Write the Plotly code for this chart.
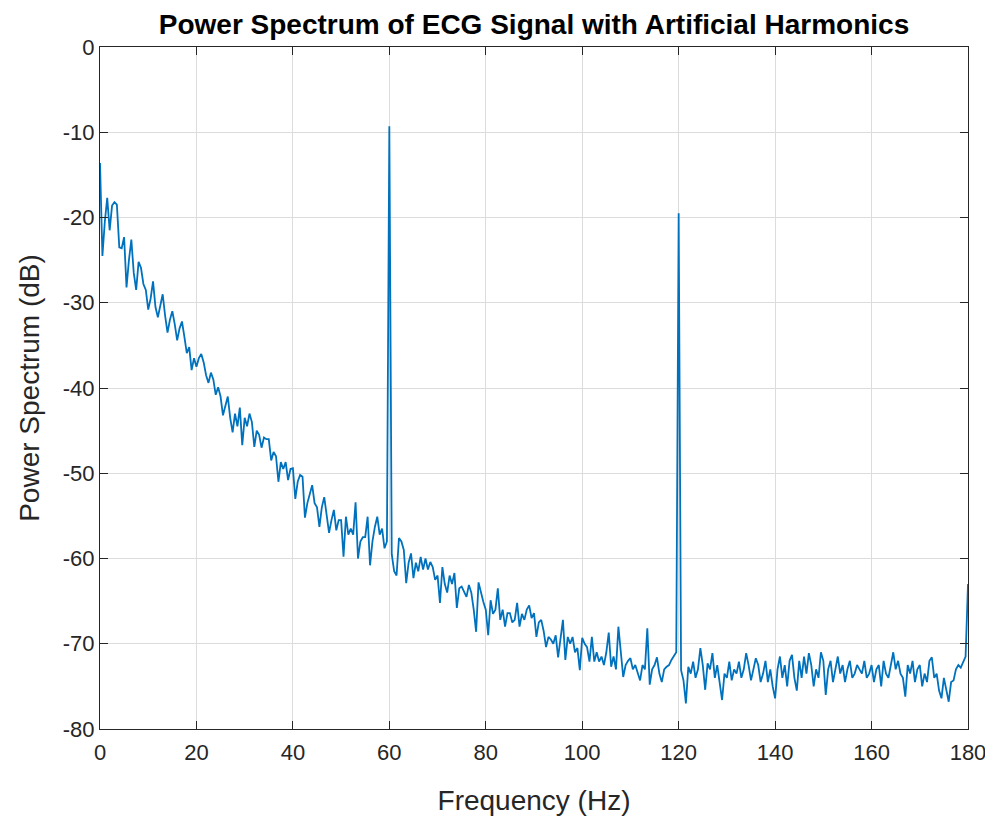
import numpy as np
import plotly.graph_objects as go

# frequency bins, 0.5 Hz apart, 0 .. 180 Hz
freq_step = 0.5
# power spectrum (dB), one row = 5 Hz
power_db = [
    -13.6, -24.5, -20.5, -17.7, -21.5, -18.6, -18.2, -18.5, -23.5, -23.6,
    -22.3, -28.2, -25.0, -22.6, -26.5, -28.5, -25.2, -25.9, -27.8, -28.5,
    -30.8, -29.5, -27.5, -30.5, -31.7, -30.2, -29.0, -31.5, -33.5, -32.0,
    -31.0, -32.5, -34.4, -33.0, -32.2, -34.0, -35.9, -35.2, -37.9, -36.5,
    -37.5, -36.5, -36.0, -37.0, -38.5, -39.4, -38.2, -39.0, -40.8, -39.9,
    -41.0, -43.2, -42.0, -41.0, -43.5, -45.2, -43.0, -44.5, -42.3, -46.7,
    -43.5, -44.5, -43.0, -44.0, -46.9, -45.0, -45.5, -47.0, -45.8, -46.0,
    -46.0, -48.5, -47.5, -48.0, -51.0, -48.7, -49.5, -48.7, -50.8, -49.5,
    -49.4, -53.0, -51.0, -50.2, -50.4, -55.2, -53.5, -52.5, -51.4, -53.5,
    -54.0, -56.3, -54.0, -52.8, -55.0, -57.0, -55.5, -54.3, -56.7, -55.5,
    -55.5, -59.8, -55.1, -57.2, -56.5, -57.2, -53.4, -60.0, -58.0, -57.5,
    -57.5, -55.1, -60.8, -58.0, -56.3, -55.1, -57.2, -56.5, -58.8, -58.0,
    -9.3, -59.5, -61.5, -62.0, -57.6, -58.0, -59.0, -62.9, -60.5, -59.4,
    -62.3, -60.5, -61.5, -59.8, -61.3, -60.0, -61.3, -60.4, -61.0, -62.5,
    -62.0, -65.2, -61.0, -63.0, -64.0, -62.0, -63.0, -61.7, -65.8, -63.5,
    -63.3, -64.0, -64.5, -63.1, -64.0, -66.0, -68.6, -62.8, -64.0, -65.1,
    -66.0, -69.0, -64.9, -66.5, -66.0, -63.5, -67.2, -66.0, -68.0, -66.4,
    -66.4, -67.5, -67.2, -65.2, -68.0, -66.5, -67.2, -66.0, -65.5, -67.0,
    -66.4, -69.2, -67.5, -67.2, -68.5, -70.4, -69.2, -69.5, -70.0, -69.0,
    -71.6, -69.6, -67.2, -71.9, -69.2, -70.0, -69.2, -71.0, -70.5, -73.1,
    -69.3, -70.0, -70.4, -72.1, -69.2, -72.1, -71.0, -72.1, -71.5, -72.5,
    -71.0, -68.7, -72.7, -71.5, -73.0, -68.0, -71.0, -73.9, -72.5, -72.0,
    -71.7, -73.0, -72.5, -73.5, -74.3, -72.5, -73.0, -68.2, -74.8, -73.0,
    -72.5, -71.6, -73.5, -74.5, -73.0, -72.7, -72.5, -71.9, -71.5, -71.0,
    -19.5, -73.1, -74.3, -77.0, -72.7, -73.5, -72.1, -74.0, -73.0, -70.5,
    -72.5, -75.4, -72.3, -73.0, -71.1, -74.0, -72.5, -74.5, -76.6, -73.5,
    -74.0, -72.1, -74.3, -73.0, -73.5, -72.1, -74.0, -73.0, -71.1, -72.5,
    -74.3, -73.0, -71.7, -72.5, -74.5, -73.5, -72.0, -74.5, -73.0, -75.0,
    -76.4, -73.0, -71.5, -74.0, -72.5, -75.0, -72.0, -71.3, -74.0, -75.5,
    -72.0, -74.0, -71.5, -73.5, -71.1, -72.5, -75.0, -73.0, -74.0, -71.0,
    -72.0, -76.0, -73.0, -72.0, -74.5, -73.0, -71.5, -73.5, -72.5, -74.5,
    -73.0, -72.0, -74.0, -73.5, -72.5, -73.0, -73.5, -72.0, -74.0, -73.5,
    -72.5, -74.5, -73.0, -72.5, -75.0, -72.0, -73.5, -74.0, -72.5, -71.0,
    -73.0, -72.0, -73.5, -74.0, -76.2, -72.5, -73.5, -72.0, -74.5, -73.0,
    -72.5, -75.0, -73.5, -74.5, -72.0, -71.6, -74.0, -73.5, -75.5, -76.4,
    -74.0, -75.5, -76.8, -74.5, -74.3, -73.0, -72.5, -72.8, -72.1, -71.5,
    -63.0,
]
freq = np.arange(len(power_db)) * freq_step

x_ticks = [0, 20, 40, 60, 80, 100, 120, 140, 160, 180]
y_ticks = [0, -10, -20, -30, -40, -50, -60, -70, -80]

ink = "#262626"
font = "Liberation Sans, Arial, sans-serif"

fig = go.Figure()
fig.add_trace(go.Scatter(x=freq, y=power_db, mode="lines",
                         line=dict(color="#0072BD", width=1.8)))

axis_style = dict(
    showline=True, linecolor=ink, linewidth=1.3, mirror="ticks",
    ticks="inside", ticklen=8, tickcolor=ink, tickwidth=1.3,
    showgrid=True, gridcolor="#dcdcdc", gridwidth=1,
    zeroline=False, automargin=False,
    tickfont=dict(family=font, size=22, color=ink),
)

# the page body adds 8 px on the left and top, so the figure is 8 px smaller
fig.update_layout(
    width=985, height=811,
    margin=dict(l=92, r=25, t=39, b=90),
    plot_bgcolor="white", paper_bgcolor="white",
    showlegend=False,
    title=dict(text="<b>Power Spectrum of ECG Signal with Artificial Harmonics</b>",
               x=0.5, xref="paper", xanchor="center",
               y=1 - 16 / 811, yanchor="middle",
               font=dict(family=font, size=28, color="black")),
    xaxis=dict(axis_style, range=[0, 180], tickvals=x_ticks,
               ticktext=[str(v) for v in x_ticks], ticklabelstandoff=3,
               title=dict(text="Frequency (Hz)", standoff=26,
                          font=dict(family=font, size=28, color=ink))),
    yaxis=dict(axis_style, range=[-80, 0], tickvals=y_ticks,
               ticktext=[str(v) for v in y_ticks],
               title=dict(text="Power Spectrum (dB)", standoff=14,
                          font=dict(family=font, size=28, color=ink))),
)

fig.write_html("out.html")
